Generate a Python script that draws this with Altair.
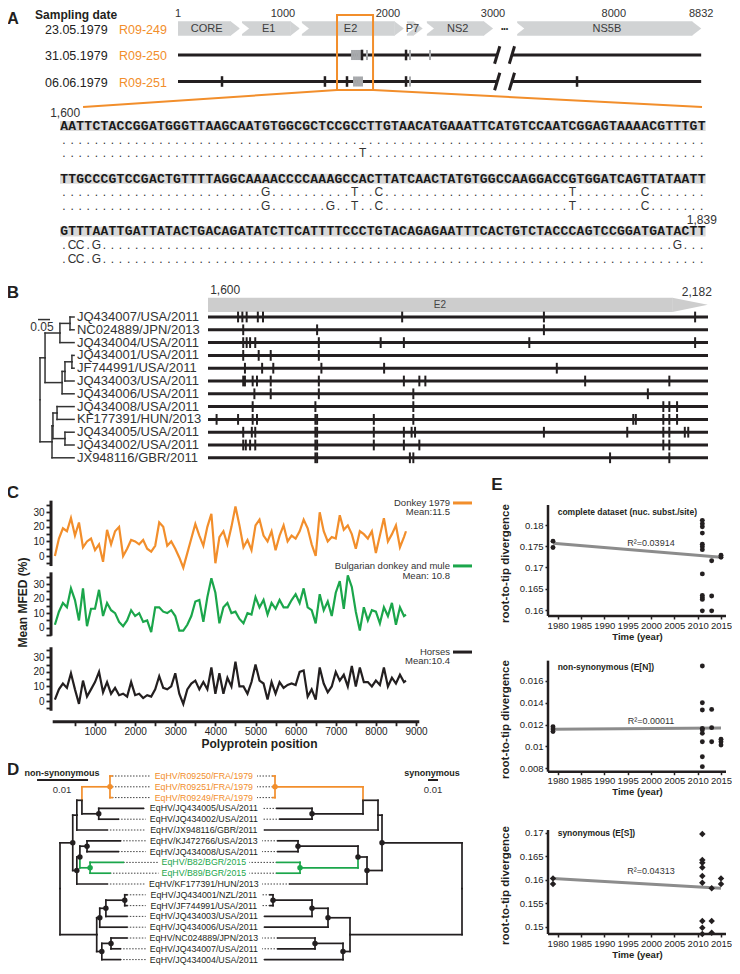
import altair as alt
import pandas as pd

alt.data_transformers.disable_max_rows()

W, H, M = 724, 958, 8
FONT = "Liberation Sans"
MONO = "Liberation Mono"
ORANGE = "#F28E2B"
GREEN = "#1BA64B"
INK = "#231F20"
GENE_GREY = "#D1D3D4"
MUT_GREY = "#A7A9AC"
TEXT = "#333333"

# ======================= DATA =======================
# ---- A: genome maps of the three 1979 samples ----
SAMPLE_DATES = ["23.05.1979", "31.05.1979", "06.06.1979"]
SAMPLE_IDS = ["R09-249", "R09-250", "R09-251"]
GENES = ["CORE", "E1", "E2", "P7", "NS2", "NS5B"]
GENE_START = [1, 610, 1180, 2180, 2370, 7080]
GENE_END = [590, 1160, 2150, 2330, 3000, 8832]
GENOME_TICKS = [1, 1000, 2000, 3000, 8000, 8832]
GENOME_LEN = 8832
GENOME_BREAK = [3040, 7030]
GENOME_GAP = 3850
MUT_BLACK = {1: [1753, 2172], 2: [420, 1400, 1610, 2172, 7650]}
MUT_GREYPOS = {1: [1658, 1677, 1696, 1715, 1734, 1800, 2210, 2400],
               2: [1677, 1696, 1715, 1734, 1753, 2210]}
ZOOM_WINDOW = [1515, 1858]

# ---- A: alignment 1,600 - 1,839 ----
REF_LINES = [
    "AATTCTACCGGATGGGTTAAGCAATGTGGCGCTCCGCCTTGTAACATGAAATTCATGTCCAATCGGAGTAAAACGTTTGT",
    "TTGCCCGTCCGACTGTTTTAGGCAAAACCCCAAAGCCACTTATCAACTATGTGGCCAAGGACCGTGGATCAGTTATAATT",
    "GTTTAATTGATTATACTGACAGATATCTTCATTTTCCCTGTACAGAGAATTTCACTGTCTACCCAGTCCGGATGATACTT",
]
R250_LINES = [
    "." * 80,
    "." * 25 + "G" + "." * 10 + "T" + ".." + "C" + "." * 23 + "T" + "." * 8 + "C" + "." * 7,
    ".CC.G" + "." * 71 + "G" + "...",
]
R251_LINES = [
    "." * 37 + "T" + "." * 42,
    "." * 25 + "G" + "." * 7 + "G" + ".." + "T" + ".." + "C" + "." * 23 + "T" + "." * 8 + "C" + "." * 7,
    ".CC.G" + "." * 75,
]

# ---- B: E2 region of reference strains ----
B_STRAINS = ["JQ434007/USA/2011", "NC024889/JPN/2013", "JQ434004/USA/2011", "JQ434001/USA/2011",
             "JF744991/USA/2011", "JQ434003/USA/2011", "JQ434006/USA/2011", "JQ434008/USA/2011",
             "KF177391/HUN/2013", "JQ434005/USA/2011", "JQ434002/USA/2011", "JX948116/GBR/2011"]
B_MUTS = [
    [1635, 1640, 1645, 1658, 1664, 1826, 1991, 2167],
    [1641, 1727, 1991],
    [1641, 1645, 1649, 1655, 1729, 1801, 1828, 1974, 2167],
    [1641, 1659, 1673, 1729],
    [1643, 1663, 1676, 1732, 1805, 2006],
    [1641, 1643, 1652, 1657, 1673, 1729, 1828, 1846, 1853, 2039, 2137],
    [1654, 1673, 1729, 1839, 2112],
    [1652, 1725, 1839, 2130, 2137, 2146],
    [1610, 1635, 1652, 1657, 1725, 1727, 1793, 1839, 2095, 2098, 2130, 2137, 2146],
    [1641, 1651, 1655, 1725, 1727, 1793, 1828, 1837, 1841, 1991, 2088, 2130, 2137, 2155, 2159],
    [1641, 1644, 1649, 1655, 1725, 1727, 1793, 1828, 1846, 2130, 2137],
    [1725, 1727, 1835, 1839, 2068, 2137],
]
B_REGION = [1600, 2182]
B_TREE = {  # node: (depth in subst./site, children); ints are strain rows
    "root": (0.0, ["n6", "n10"]),
    "n6": (0.021, ["n2", "n5"]),
    "n2": (0.083, ["n1", 2]),
    "n1": (0.125, [0, 1]),
    "n5": (0.092, ["n4", 6]),
    "n4": (0.104, ["n3", 5]),
    "n3": (0.133, [3, 4]),
    "n10": (0.050, ["n8", 11]),
    "n8": (0.054, ["n7", "n9"]),
    "n7": (0.071, [7, 8]),
    "n9": (0.104, [9, 10]),
}
B_TIP = 0.142

# ---- C: mean MFED along the polyprotein ----
C_POS = [0, 100, 200, 300, 400, 500, 600, 700, 800, 900, 1000, 1100, 1200, 1300, 1400, 1500, 1600,
         1700, 1800, 1900, 2000, 2100, 2200, 2300, 2400, 2500, 2600, 2700, 2800, 2900, 3000, 3100,
         3200, 3300, 3400, 3500, 3600, 3700, 3800, 3900, 4000, 4100, 4200, 4300, 4400, 4500, 4600,
         4700, 4800, 4900, 5000, 5100, 5200, 5300, 5400, 5500, 5600, 5700, 5800, 5900, 6000, 6100,
         6200, 6300, 6400, 6500, 6600, 6700, 6800, 6900, 7000, 7100, 7200, 7300, 7400, 7500, 7600,
         7700, 7800, 7900, 8000, 8100, 8200, 8300, 8400, 8500, 8600, 8700, 8750]
C_DONKEY79 = [0, 12, 19, 17, 26, 14, 23, 6, 10, 12, 4, 8, -4, 18, 8, 17, 20, 0, 5, 11, 10, 8, 11, 5,
              3, 7, 23, 20, 7, 10, 5, -1, -8, 2, 12, 22, 14, 7, 20, 29, -5, 13, 17, 8, 20, 34, 21, 6,
              11, 4, 21, 25, 14, 10, 17, 4, 14, 21, 10, 14, 12, 17, 25, 19, 8, 0, 30, 17, 10, 13, 12,
              28, 18, 21, 15, 5, 17, 15, 12, 17, 2, 14, 26, 10, 15, 21, 6, 13, 17]
C_BULGARIA = [2, 11, 17, 14, 27, 19, 5, 27, 1, 13, 13, 26, 8, 17, 12, 10, 4, 1, 5, 12, 8, 10, 4, 5,
              -3, 14, 14, 11, 10, 12, 8, -2, -2, 2, 8, 18, 19, 4, 21, 34, 24, 3, 14, 17, 10, 11, 6, 3,
              10, 9, 21, 14, 19, 9, 17, 13, 19, 14, 14, 19, 23, 17, 27, 14, 12, 3, 23, 12, 18, 8, 24,
              32, 13, 36, 28, 11, -2, 14, 5, 12, 11, 3, 14, 8, 17, 2, 14, 8, 9]
C_HORSES = [1, 8, 12, 9, 19, 8, -2, 14, 3, 8, 13, 20, 6, 13, 5, 9, 4, 5, 3, 13, 4, 5, 2, 4, 3, 8,
            17, 9, 8, 10, 19, 5, -2, 8, 12, 14, 8, 13, 8, 23, 5, 19, 5, 16, 10, 27, 10, 10, 5, 13, 25,
            14, 12, 1, 13, 5, 13, 9, 11, 12, 11, 20, 21, 3, 8, 1, 23, 12, 6, 10, 20, 14, 18, 10, 24,
            10, 23, 13, 13, 10, 14, 11, 23, 10, 16, 12, 18, 13, 14]
C_SERIES = ["Donkey 1979", "Bulgarian donkey and mule", "Horses"]
C_MEANS = ["Mean:11.5", "Mean: 10.8", "Mean:10.4"]
C_YTICKS = [-5, 0, 5, 10, 15, 20, 25, 30, 35]
C_XTICKS = [500, 1000, 1500, 2000, 2500, 3000, 3500, 4000, 4500, 5000, 5500, 6000, 6500, 7000,
            7500, 8000, 8500, 9000]

# ---- D: tanglegram non-synonymous / synonymous ----
D_LABELS = ["EqHV/R09250/FRA/1979", "EqHV/R09251/FRA/1979", "EqHV/R09249/FRA/1979",
            "EqHV/JQ434005/USA/2011", "EqHV/JQ434002/USA/2011", "EqHV/JX948116/GBR/2011",
            "EqHV/KJ472766/USA/2013", "EqHV/JQ434008/USA/2011", "EqHV/B82/BGR/2015",
            "EqHV/B89/BGR/2015", "EqHV/KF177391/HUN/2013", "EqHV/JQ434001/NZL/2011",
            "EqHV/JF744991/USA/2011", "EqHV/JQ434003/USA/2011", "EqHV/JQ434006/USA/2011",
            "EqHV/NC024889/JPN/2013", "EqHV/JQ434007/USA/2011", "EqHV/JQ434004/USA/2011"]
D_GROUP = ["FRA", "FRA", "FRA", "ref", "ref", "ref", "ref", "ref", "BGR", "BGR", "ref", "ref",
           "ref", "ref", "ref", "ref", "ref", "ref"]
D_NS_TREE = {
    "root": (0.0, ["nD", "nJ"]), "nD": (0.0025, ["nC", "nE"]), "nC": (0.0033, ["nA", 5]),
    "nA": (0.0043, ["nO", "nB"]), "nO": (0.0098, [0, 1, 2]), "nB": (0.0076, [3, 4]),
    "nE": (0.0033, ["nI", 10]), "nI": (0.0039, ["nG", "nH"]), "nG": (0.0053, [6, 7]),
    "nH": (0.0059, [8, 9]), "nJ": (0.0072, ["nM", "nP"]), "nM": (0.0078, ["nL", 14]),
    "nL": (0.0090, ["nK", 13]), "nK": (0.0127, [11, 12]), "nP": (0.0082, ["nN", 17]),
    "nN": (0.0100, [15, 16]),
}
D_NS_TIPS = [0.0102, 0.0102, 0.0102, 0.0163, 0.0114, 0.0092, 0.0118, 0.0114, 0.0124, 0.0098,
             0.0092, 0.0131, 0.0131, 0.0131, 0.0131, 0.0131, 0.0118, 0.0118]
D_S_TREE = {
    "root": (0.0, ["nD", "nJ"]), "nD": (0.080, ["nC", "nE"]), "nC": (0.084, ["nA", 5]),
    "nA": (0.099, ["nO", "nB"]), "nO": (0.187, [0, 1, 2]), "nB": (0.150, [3, 4]),
    "nE": (0.095, ["nI", 10]), "nI": (0.104, ["nG", "nH"]), "nG": (0.164, [6, 7]),
    "nH": (0.162, [8, 9]), "nJ": (0.112, ["nM", "nP"]), "nM": (0.134, ["nL", 14]),
    "nL": (0.150, ["nK", 13]), "nK": (0.189, [11, 12]), "nP": (0.119, ["nN", 17]),
    "nN": (0.147, [15, 16]),
}
D_S_TIPS = [0.189, 0.189, 0.189, 0.185, 0.182, 0.197, 0.184, 0.184, 0.185, 0.185, 0.172, 0.192,
            0.192, 0.197, 0.197, 0.184, 0.184, 0.197]
D_NODE_GROUP = {"nO": "FRA", "nH": "BGR"}
D_DOTS = ["nO", "nB", "nD", "nG", "nH", "nI", "nE", "nK", "nL", "nM", "nN", "nP"]

# ---- E: root-to-tip regressions ----
E_XTICKS = [1980, 1985, 1990, 1995, 2000, 2005, 2010, 2015]
E1_YEAR = [1979, 1979] + [2011] * 12 + [2013] * 3 + [2015] * 2
E1_VAL = [0.1762, 0.1747, 0.1811, 0.1803, 0.1796, 0.1781, 0.1755, 0.1749, 0.1742, 0.1685, 0.1634,
          0.1629, 0.1625, 0.1598, 0.1716, 0.1633, 0.1598, 0.1729, 0.1724]
E1_FIT = [0.1757, 0.1724]
E1_TICKS = [0.16, 0.165, 0.17, 0.175, 0.18]
E2_YEAR = [1979] * 3 + [2011] * 9 + [2013] * 3 + [2015] * 3
E2_VAL = [0.0118, 0.01159, 0.01135, 0.01734, 0.01399, 0.01332, 0.01165, 0.0115, 0.01119, 0.01043,
          0.00906, 0.00815, 0.01338, 0.01171, 0.01043, 0.01065, 0.01043, 0.01013]
E2_FIT = [0.01156, 0.01168]
E2_TICKS = [0.008, 0.01, 0.012, 0.014, 0.016]
E3_YEAR = [1979] * 2 + [2011] * 9 + [2013] * 3 + [2015] * 2
E3_VAL = [0.16028, 0.15908, 0.16972, 0.16418, 0.16362, 0.16262, 0.16078, 0.15936, 0.15121,
          0.14979, 0.14844, 0.15816, 0.15121, 0.14872, 0.16028, 0.15908]
E3_FIT = [0.16028, 0.15816]
E3_TICKS = [0.15, 0.155, 0.16, 0.165, 0.17]
E_TITLES = ["complete dataset (nuc. subst./site)", "non-synonymous (E[N])", "synonymous (E[S])"]
E_R2 = ["R\u00b2=0.03914", "R\u00b2=0.00011", "R\u00b2=0.04313"]


# ======================= HELPERS =======================
def scale_x(img0, v0, img1, v1):
    """Linear x scale calibrated so that value v0 lands at page pixel img0, v1 at img1."""
    p0, p1 = img0 - M, img1 - M
    k = (v1 - v0) / (p1 - p0)
    a, b = v0 - p0 * k, v0 + (W - p0) * k
    if k > 0:
        return alt.Scale(domain=[a, b], nice=False, zero=False)
    return alt.Scale(domain=[b, a], reverse=True, nice=False, zero=False)


def scale_y(img0, v0, img1, v1):
    p0, p1 = img0 - M, img1 - M
    k = (v1 - v0) / (p1 - p0)
    top, bottom = v0 - p0 * k, v0 + (H - p0) * k
    if k < 0:
        return alt.Scale(domain=[bottom, top], nice=False, zero=False)
    return alt.Scale(domain=[top, bottom], reverse=True, nice=False, zero=False)


def X(f, sc, axis=None):
    return alt.X(f"{f}:Q", scale=sc, axis=axis)


def Y(f, sc, axis=None):
    return alt.Y(f"{f}:Q", scale=sc, axis=axis)


def rules(rows, sx, sy, **mk):
    df = pd.DataFrame(rows)
    enc = dict(x=X("x", sx), x2="x2:Q", y=Y("y", sy), y2="y2:Q")
    if "c" in df.columns:
        enc["color"] = alt.Color("c:N", scale=None)
    return alt.Chart(df).mark_rule(**mk).encode(**enc)


def texts(rows, sx, sy, **mk):
    df = pd.DataFrame(rows)
    mk.setdefault("font", FONT)
    enc = dict(x=X("x", sx), y=Y("y", sy), text="t:N")
    if "c" in df.columns:
        enc["color"] = alt.Color("c:N", scale=None)
    return alt.Chart(df).mark_text(**mk).encode(**enc)


def boxes(rows, sx, sy, **mk):
    return alt.Chart(pd.DataFrame(rows)).mark_rect(**mk).encode(
        x=X("x", sx), x2="x2:Q", y=Y("y", sy), y2="y2:Q")


def tips(rows, sx, sy, shape, size, color):
    return alt.Chart(pd.DataFrame(rows)).mark_point(
        shape=shape, size=size, filled=True, color=color, opacity=1, strokeWidth=0).encode(
        x=X("x", sx), y=Y("y", sy))


def tree_edges(nodes, tip_depth, color_of):
    ys = {}

    def ypos(n):
        if isinstance(n, int):
            return float(n)
        if n not in ys:
            ch = [ypos(c) for c in nodes[n][1]]
            ys[n] = (min(ch) + max(ch)) / 2
        return ys[n]

    def depth(n):
        return tip_depth(n) if isinstance(n, int) else nodes[n][0]

    rows = []
    for n, (d, kids) in nodes.items():
        yn = ypos(n)
        for c in kids:
            yc, col = ypos(c), color_of(c)
            rows.append(dict(x=d, x2=d, y=yn, y2=yc, c=col))
            rows.append(dict(x=d, x2=depth(c), y=yc, y2=yc, c=col))
    return rows, ys


AX = dict(domain=False, grid=False, labelFont=FONT, titleFont=FONT, labelColor="#222222",
          titleColor=INK, tickColor=INK, labelOverlap=False, labelFlush=False)

L = []

# ======================= PANEL A =======================
def gpos(p):
    return p - GENOME_GAP if p >= GENOME_BREAK[1] else p


sxA = scale_x(178, 1, 493, 3000)
syA = scale_y(28.5, 0, 81.5, 2)
TIP = 85
GENE_TIP_SHAPE = "M-0.05,-1L1.26,0L-0.05,1Z"
L.append(boxes([dict(x=gpos(s), x2=gpos(e) - TIP, y=-0.27, y2=0.27)
                for s, e in zip(GENE_START, GENE_END)], sxA, syA, color=GENE_GREY))
L.append(tips([dict(x=gpos(e) - TIP, y=0.0) for e in GENE_END], sxA, syA, GENE_TIP_SHAPE, 205, GENE_GREY))
L.append(tips([dict(x=gpos(s) - 18, y=0.0) for s in GENE_START[1:]], sxA, syA, GENE_TIP_SHAPE, 205, "white"))
L.append(texts([dict(x=(gpos(s) + gpos(e) - TIP / 2) / 2, y=0.03, t=g)
                for g, s, e in zip(GENES, GENE_START, GENE_END)], sxA, syA, fontSize=11, color="#3C3C3C"))
L.append(texts([dict(x=gpos(t), y=-0.53, t=str(t)) for t in GENOME_TICKS], sxA, syA,
               fontSize=11, color=TEXT))
L.append(texts([dict(x=(GENOME_BREAK[0] + gpos(GENOME_BREAK[1])) / 2, y=0.0, t="\u2022\u2022\u2022")],
               sxA, syA, fontSize=7, color=INK))
line_rows, slash_rows = [], []
for r in (1, 2):
    line_rows += [dict(x=gpos(1), x2=gpos(GENOME_BREAK[0]), y=r, y2=r),
                  dict(x=gpos(GENOME_BREAK[1]), x2=gpos(GENOME_LEN), y=r, y2=r)]
    for b in GENOME_BREAK:
        slash_rows.append(dict(x=gpos(b) - 25, x2=gpos(b) + 25, y=r + 0.33, y2=r - 0.33))
L.append(rules(line_rows, sxA, syA, color=INK, strokeWidth=3.2))
L.append(rules(slash_rows, sxA, syA, color=INK, strokeWidth=3))
L.append(rules([dict(x=gpos(p), x2=gpos(p), y=r - 0.19, y2=r + 0.19)
                for r, ps in MUT_GREYPOS.items() for p in ps], sxA, syA, color=MUT_GREY, strokeWidth=2))
L.append(rules([dict(x=gpos(p), x2=gpos(p), y=r - 0.2, y2=r + 0.2)
                for r, ps in MUT_BLACK.items() for p in ps], sxA, syA, color=INK, strokeWidth=2.5))
L.append(boxes([dict(x=ZOOM_WINDOW[0], x2=ZOOM_WINDOW[1], y=-0.51, y2=2.32)], sxA, syA,
               fillOpacity=0, stroke=ORANGE, strokeWidth=2))
L.append(rules([dict(x=ZOOM_WINDOW[0], x2=-903, y=2.32, y2=2.96),
                dict(x=ZOOM_WINDOW[1], x2=4990, y=2.32, y2=2.96)], sxA, syA, color=ORANGE, strokeWidth=2))
L.append(texts([dict(x=-1570, y=-0.36, t="A")], sxA, syA, fontSize=16, fontWeight="bold", color=INK))
L.append(texts([dict(x=-1360, y=-0.52, t="Sampling date")], sxA, syA, fontSize=12,
               fontWeight="bold", align="left", color=INK))
L.append(texts([dict(x=-1265, y=i, t=d) for i, d in enumerate(SAMPLE_DATES)], sxA, syA,
               fontSize=12.5, align="left", color="#222222", dy=1))
L.append(texts([dict(x=-561, y=i, t=s) for i, s in enumerate(SAMPLE_IDS)], sxA, syA,
               fontSize=12.5, align="left", color=ORANGE, dy=1))

# ---- alignment ----
sxS = scale_x(60, 0, 705.6, 80)
syS = scale_y(126, 0, 139.7, 1)
BLOCK = 3.85
L.append(boxes([dict(x=0, x2=80, y=b * BLOCK - 0.37, y2=b * BLOCK + 0.37) for b in range(3)],
               sxS, syS, color="#D9D9D9"))
L.append(texts([dict(x=i + 0.5, y=b * BLOCK, t=ch) for b, ln in enumerate(REF_LINES)
                for i, ch in enumerate(ln)], sxS, syS, font=MONO, fontSize=13, fontWeight="bold",
               color="#1A1A1A"))
var_rows = []
for li, lines in ((1, R250_LINES), (2, R251_LINES)):
    for b, ln in enumerate(lines):
        for i, ch in enumerate(ln):
            var_rows.append(dict(x=i + 0.5, y=b * BLOCK + li, t=ch))
L.append(texts(var_rows, sxS, syS, fontSize=12, color="#333333"))
L.append(texts([dict(x=2.5, y=-0.95, t="1,600"), dict(x=81.4, y=6.86, t="1,839")], sxS, syS,
               fontSize=12, align="right", color=TEXT))

# ======================= PANEL B =======================
sxB = scale_x(208, 1600, 708, 2182)
syB = scale_y(317, 0, 329.8, 1)
B_TIP_START = 2141
L.append(boxes([dict(x=B_REGION[0], x2=B_TIP_START, y=-1.5, y2=-0.4)], sxB, syB, color="#CDCDCD"))
L.append(tips([dict(x=B_TIP_START, y=-0.95)], sxB, syB, "M-0.05,-1L4.96,0L-0.05,1Z", 199, "#CDCDCD"))
L.append(texts([dict(x=1870, y=-0.9, t="E2")], sxB, syB, fontSize=10, color="#444444"))
L.append(texts([dict(x=1620, y=-2.1, t="1,600"), dict(x=2169, y=-1.95, t="2,182")], sxB, syB,
               fontSize=12, color=TEXT))
L.append(texts([dict(x=1373, y=-1.9, t="B")], sxB, syB, fontSize=17, fontWeight="bold", color=INK))
L.append(rules([dict(x=B_REGION[0], x2=B_REGION[1], y=r, y2=r) for r in range(len(B_STRAINS))],
               sxB, syB, color=INK, strokeWidth=3))
L.append(rules([dict(x=p, x2=p, y=r - 0.42, y2=r + 0.42) for r, ps in enumerate(B_MUTS) for p in ps],
               sxB, syB, color=INK, strokeWidth=2))
sxBT = scale_x(40, 0, 52, 0.05)
b_edges, _ = tree_edges(B_TREE, lambda i: B_TIP, lambda c: "#333333")
L.append(rules(b_edges, sxBT, syB, strokeWidth=1.5, strokeCap="square"))
L.append(texts([dict(x=0.154, y=r, t=s) for r, s in enumerate(B_STRAINS)], sxBT, syB,
               fontSize=13, align="left", color=TEXT))
L.append(rules([dict(x=-0.0083, x2=0.0417, y=0.2, y2=0.2)], sxBT, syB, color=TEXT, strokeWidth=1.5))
L.append(texts([dict(x=0.0083, y=0.75, t="0.05")], sxBT, syB, fontSize=12, color=TEXT))

# ======================= PANEL C =======================
sxC = scale_x(54.9, 0, 416, 9000)
C_SY = [scale_y(556, 0, 512.3, 30), scale_y(627.7, 0, 584, 30), scale_y(701, 0, 657.3, 30)]
C_YLIM = [[-6.9, 38.0], [-5.5, 38.0], [-6.7, 36.9]]
C_LEGEND_Y = [[36.4, 30.2], [42.4, 35.5], [33.6, 27.5]]
C_COLORS = [ORANGE, GREEN, INK]
C_VALUES = [C_DONKEY79, C_BULGARIA, C_HORSES]


def c_yaxis(title):
    kw = dict(AX, orient="left", offset=-(51 - M), values=C_YTICKS, format="d",
              labelExpr="datum.value % 10 === 0 && datum.value >= 0 ? datum.label : ''",
              tickSize=5, tickWidth=1.8, labelFontSize=10, labelPadding=2)
    if title:
        kw.update(title=title, titleX=22 - 51, titleY=602 - M, titleAngle=270, titleAlign="center",
                  titleBaseline="middle", titleFontSize=12, titleFontWeight="bold")
    else:
        kw["title"] = None
    return alt.Axis(**kw)


C_XAXIS = alt.Axis(**AX, orient="bottom", offset=(721.7 - M) - H, values=C_XTICKS, format="d",
                   labelExpr="datum.value % 1000 === 0 ? datum.label : ''", tickSize=4, tickWidth=1.8,
                   labelFontSize=10, labelPadding=1, title="Polyprotein position", titleX=259 - M,
                   titleY=21.5, titleAlign="center", titleBaseline="middle", titleFontSize=12,
                   titleFontWeight="bold")

for k in range(3):
    sy = C_SY[k]
    df = pd.DataFrame({"pos": C_POS, "val": C_VALUES[k]})
    L.append(alt.Chart(df).mark_line(color=C_COLORS[k], strokeWidth=2.2).encode(
        x=alt.X("pos:Q", scale=sxC, axis=C_XAXIS if k == 2 else None),
        y=alt.Y("val:Q", scale=sy, axis=c_yaxis("Mean MFED (%)" if k == 1 else None))))
    L.append(rules([dict(x=-97, x2=-97, y=C_YLIM[k][0], y2=C_YLIM[k][1])], sxC, sy,
                   color=INK, strokeWidth=3))
    L.append(texts([dict(x=9847, y=C_LEGEND_Y[k][0], t=C_SERIES[k]),
                    dict(x=9847, y=C_LEGEND_Y[k][1], t=C_MEANS[k])], sxC, sy,
                   fontSize=9.5, align="right", color=TEXT))
    L.append(rules([dict(x=9922, x2=10396, y=C_LEGEND_Y[k][0], y2=C_LEGEND_Y[k][0])], sxC, sy,
                   color=C_COLORS[k], strokeWidth=3))
L.append(rules([dict(x=-55, x2=9082, y=-14.2, y2=-14.2)], sxC, C_SY[2], color=INK, strokeWidth=3))
L.append(texts([dict(x=-1044, y=43.2, t="C")], sxC, C_SY[0], fontSize=17, fontWeight="bold", color=INK))

# ======================= PANEL D =======================
GROUP_COLOR = {"FRA": ORANGE, "BGR": GREEN, "ref": INK}
syD = scale_y(776, 0, 786.8, 1)
sxDL = scale_x(60, 0, 111, 0.01)
sxDR = scale_x(462, 0, 362, 0.1)
LABEL_XL, LABEL_XR = 0.0282, 0.258


def d_color(c):
    if isinstance(c, int):
        return GROUP_COLOR[D_GROUP[c]]
    return GROUP_COLOR[D_NODE_GROUP.get(c, "ref")]


for tree, tip_depths, sx, per_px, lab_x in ((D_NS_TREE, D_NS_TIPS, sxDL, 0.01 / 51, LABEL_XL),
                                            (D_S_TREE, D_S_TIPS, sxDR, 0.001, LABEL_XR)):
    edges, ys = tree_edges(tree, lambda i, t=tip_depths: t[i], d_color)
    dots = []
    for i, lab in enumerate(D_LABELS):
        half = 2.55 * len(lab) + 2
        end = lab_x - half * per_px
        dots.append(dict(x=tip_depths[i], x2=end, y=i, y2=i))
    L.append(rules(dots, sx, syD, color="#444444", strokeWidth=1, strokeDash=[1.5, 1.5]))
    L.append(rules(edges, sx, syD, strokeWidth=1.7, strokeCap="square"))
    L.append(alt.Chart(pd.DataFrame([dict(x=tree[n][0], y=ys[n], c=d_color(n)) for n in D_DOTS]))
             .mark_circle(size=30, opacity=1)
             .encode(x=X("x", sx), y=Y("y", syD), color=alt.Color("c:N", scale=None)))
L.append(texts([dict(x=LABEL_XL, y=i, t=lab, c=GROUP_COLOR[D_GROUP[i]])
                for i, lab in enumerate(D_LABELS)], sxDL, syD, fontSize=8.8))
L.append(texts([dict(x=0.0004, y=-0.28, t="non-synonymous")], sxDL, syD, fontSize=9,
               fontWeight="bold", color=INK))
L.append(rules([dict(x=-0.0045, x2=0.0055, y=0.37, y2=0.37)], sxDL, syD, color=INK, strokeWidth=2))
L.append(texts([dict(x=0.0004, y=1.32, t="0.01")], sxDL, syD, fontSize=9.5, color=TEXT))
L.append(texts([dict(x=0.030, y=-0.28, t="synonymous")], sxDR, syD, fontSize=9,
               fontWeight="bold", color=INK))
L.append(rules([dict(x=0.024, x2=0.034, y=0.37, y2=0.37)], sxDR, syD, color=INK, strokeWidth=2))
L.append(texts([dict(x=0.029, y=1.32, t="0.01")], sxDR, syD, fontSize=9.5, color=TEXT))
L.append(texts([dict(x=-0.0092, y=-0.55, t="D")], sxDL, syD, fontSize=17, fontWeight="bold", color=INK))

# ======================= PANEL E =======================
sxE = scale_x(553, 1979, 721, 2015)
E_XLIM = [1977.93, 2016.07]


def e_yaxis(ticks, center_img):
    return alt.Axis(**AX, orient="left", offset=-(548 - M), values=ticks,
                    labelExpr="format(datum.value, '.3~f')", tickSize=3,
                    tickWidth=1.5, labelFontSize=9.5, labelPadding=2, title="root-to-tip divergence",
                    titleX=505 - 548, titleY=center_img - M, titleAngle=270, titleAlign="center",
                    titleBaseline="middle", titleFontSize=11.5, titleFontWeight="bold")


def e_xaxis(axis_img):
    return alt.Axis(**AX, orient="bottom", offset=(axis_img - M) - H, values=E_XTICKS, format="d",
                    tickSize=3, tickWidth=1.5, labelFontSize=9.5, labelPadding=1, title="Time (year)",
                    titleX=637 - M, titleY=20, titleAlign="center", titleBaseline="middle",
                    titleFontSize=9.5, titleFontWeight="bold")


E_SPECS = [
    (E1_YEAR, E1_VAL, E1_FIT, E1_TICKS, scale_y(610, 0.16, 525, 0.18), [0.1586, 0.1847], 616, 563,
     0.1831, 0.1757, "circle"),
    (E2_YEAR, E2_VAL, E2_FIT, E2_TICKS, scale_y(768.3, 0.008, 680.7, 0.016), [0.00769, 0.01783],
     771.7, 719, 0.01726, 0.01232, "circle"),
    (E3_YEAR, E3_VAL, E3_FIT, E3_TICKS, scale_y(926.7, 0.15, 832.7, 0.17), [0.14845, 0.17057],
     934, 885, 0.16994, 0.16185, "diamond"),
]
for k, (yrs, vals, fit, ticks, sy, ylim, axis_img, tcenter, title_y, r2_y, shape) in enumerate(E_SPECS):
    L.append(rules([dict(x=E_XLIM[0], x2=E_XLIM[0], y=ylim[0], y2=ylim[1]),
                    dict(x=E_XLIM[0], x2=E_XLIM[1], y=ylim[0], y2=ylim[0])], sxE, sy,
                   color=INK, strokeWidth=2.5))
    L.append(alt.Chart(pd.DataFrame({"yr": [1979, 2015], "v": fit})).mark_line(
        color="#8C8C8C", strokeWidth=3).encode(x=X("yr", sxE), y=Y("v", sy)))
    pts = pd.DataFrame({"yr": yrs, "v": vals})
    if shape == "circle":
        mk = alt.Chart(pts).mark_circle(size=24, color=INK, opacity=1)
    else:
        mk = alt.Chart(pts).mark_point(shape="diamond", filled=True, size=42, color=INK, opacity=1)
    L.append(mk.encode(x=X("yr", sxE, e_xaxis(axis_img)), y=Y("v", sy, e_yaxis(ticks, tcenter))))
    L.append(texts([dict(x=1980, y=title_y, t=E_TITLES[k])], sxE, sy, fontSize=8.5,
                   fontWeight="bold", align="left", color=INK))
    L.append(texts([dict(x=2000, y=r2_y, t=E_R2[k])], sxE, sy, fontSize=9, color=TEXT))
    if k == 0:
        L.append(texts([dict(x=1967, y=0.1894, t="E")], sxE, sy, fontSize=17, fontWeight="bold",
                       color=INK))

chart = (alt.layer(*L)
         .resolve_scale(x="independent", y="independent")
         .properties(width=W, height=H, padding=0, autosize=alt.AutoSizeParams(type="none"))
         .configure_view(stroke=None))

chart.save("out.html", embed_options={"renderer": "svg", "actions": False})
